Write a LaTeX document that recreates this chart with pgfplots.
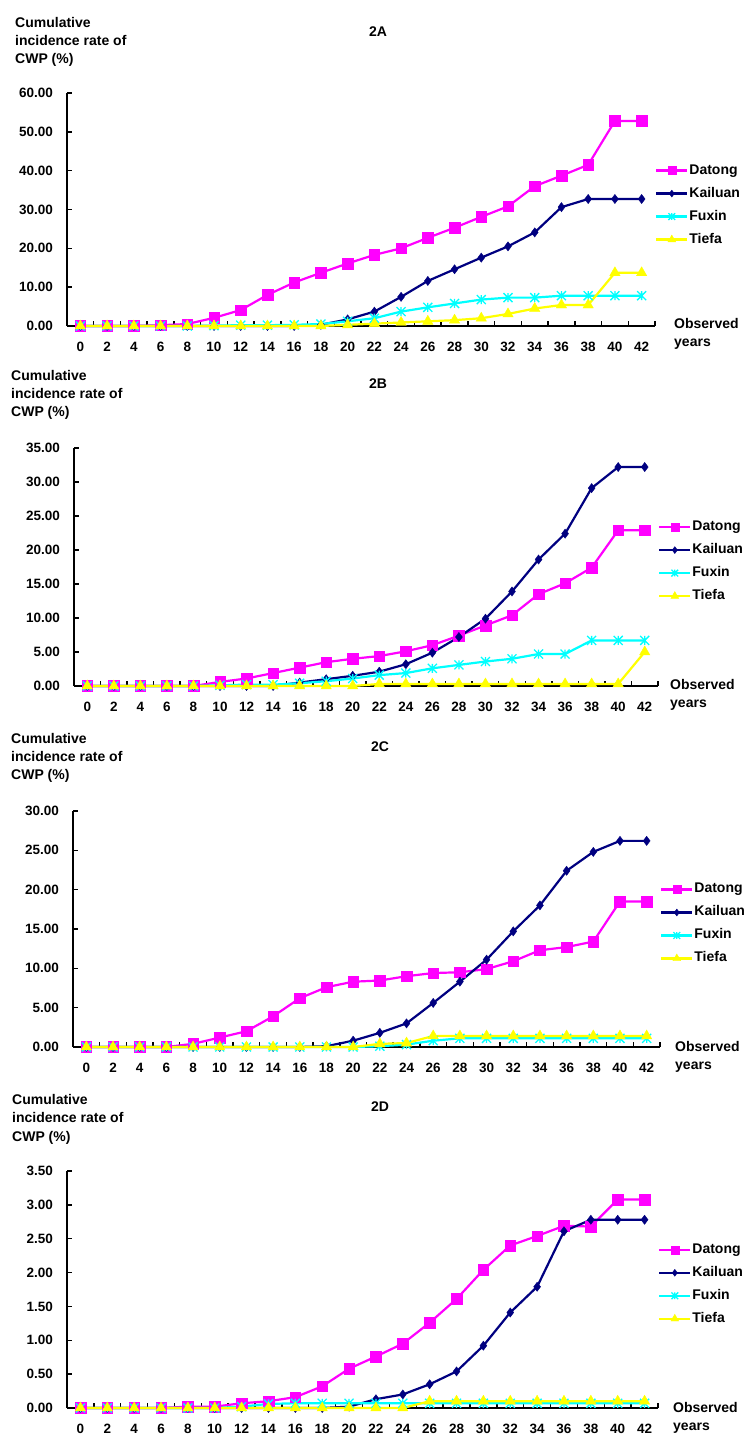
\documentclass[border=0pt]{standalone}
\usepackage{pgfplots}
\pgfplotsset{compat=1.18}
\usepackage{pgfplotstable}
\usepackage{fontspec}
\setmainfont{Liberation Sans}
\newcommand\ff{\fontsize{14}{16}\selectfont\bfseries}
\newcommand\tf{\fontsize{13.5}{15}\selectfont\bfseries}

\definecolor{cDat}{HTML}{FF00FF}
\definecolor{cKai}{HTML}{000080}
\definecolor{cFux}{HTML}{00FFFF}
\definecolor{cTie}{HTML}{FFFF00}

\pgfdeclareplotmark{xstar}{%
  \pgfpathmoveto{\pgfqpoint{-\pgfplotmarksize}{-\pgfplotmarksize}}%
  \pgfpathlineto{\pgfqpoint{\pgfplotmarksize}{\pgfplotmarksize}}%
  \pgfpathmoveto{\pgfqpoint{-\pgfplotmarksize}{\pgfplotmarksize}}%
  \pgfpathlineto{\pgfqpoint{\pgfplotmarksize}{-\pgfplotmarksize}}%
  \pgfpathmoveto{\pgfqpoint{0pt}{-\pgfplotmarksize}}%
  \pgfpathlineto{\pgfqpoint{0pt}{\pgfplotmarksize}}%
  \pgfusepathqstroke}

\pgfplotstableread{
x D K F T
0 0 0 0 0
2 0 0 0 0
4 0 0 0 0
6 0.2 0 0 0
8 0.5 0 0 0
10 2.1 0 0.1 0
12 4.1 0 0.2 0
14 8.0 0 0.2 0
16 11.2 0 0.3 0
18 13.7 0.3 0.5 0
20 16.1 1.7 1.2 0.3
22 18.3 3.7 2.0 0.6
24 20.0 7.5 3.7 0.9
26 22.7 11.6 4.8 1.2
28 25.3 14.6 5.8 1.5
30 28.1 17.6 6.8 2.0
32 30.8 20.5 7.3 3.1
34 36.0 24.1 7.3 4.5
36 38.7 30.6 7.8 5.4
38 41.5 32.7 7.8 5.4
40 52.8 32.7 7.8 13.7
42 52.8 32.7 7.8 13.7
}\tabA

\pgfplotstableread{
x D K F T
0 0 0 0 0
2 0 0 0 0
4 0 0 0 0
6 0 0 0 0
8 0 0 0 0
10 0.6 0 0.1 0
12 1.1 0 0.2 0
14 1.9 0 0.2 0
16 2.7 0.5 0.4 0
18 3.5 1.0 0.7 0
20 4.0 1.5 1.1 0
22 4.4 2.1 1.6 0.3
24 5.1 3.2 1.9 0.3
26 6.0 4.9 2.6 0.3
28 7.4 7.2 3.1 0.3
30 8.9 9.9 3.6 0.3
32 10.4 13.9 4.0 0.3
34 13.5 18.6 4.7 0.3
36 15.1 22.4 4.7 0.3
38 17.4 29.1 6.7 0.3
40 22.9 32.2 6.7 0.3
42 22.9 32.2 6.7 5.0
}\tabB

\pgfplotstableread{
x D K F T
0 0 0 0 0
2 0 0 0 0
4 0 0 0 0
6 0 0 0 0
8 0.4 0 0 0
10 1.2 0 0 0
12 2.0 0 0 0
14 3.9 0 0 0
16 6.2 0 0 0
18 7.6 0.1 0 0
20 8.3 0.8 0 0
22 8.45 1.8 0.1 0.4
24 9.0 3.0 0.3 0.5
26 9.4 5.6 0.8 1.4
28 9.5 8.3 1.1 1.4
30 9.9 11.1 1.1 1.4
32 10.9 14.7 1.1 1.4
34 12.3 18.0 1.1 1.4
36 12.7 22.4 1.1 1.4
38 13.4 24.8 1.1 1.4
40 18.5 26.2 1.1 1.4
42 18.5 26.2 1.1 1.4
}\tabC

\pgfplotstableread{
x D K F T
0 0 0 0 0
2 0 0 0 0
4 0 0 0 0
6 0 0 0 0
8 0.02 0 0 0
10 0.02 0 0 0
12 0.07 0 0.02 0
14 0.10 0 0.06 0
16 0.16 0 0.07 0
18 0.32 0 0.07 0
20 0.58 0.02 0.07 0
22 0.76 0.13 0.07 0
24 0.95 0.20 0.07 0
26 1.26 0.35 0.07 0.10
28 1.61 0.54 0.07 0.10
30 2.04 0.92 0.07 0.10
32 2.40 1.41 0.07 0.10
34 2.54 1.79 0.07 0.10
36 2.69 2.61 0.07 0.10
38 2.68 2.78 0.07 0.10
40 3.08 2.78 0.07 0.10
42 3.08 2.78 0.07 0.10
}\tabD

\pgfplotsset{
  cwp/.style={
    scale only axis, anchor=south west, clip=false,
    xmin=-1, xmax=43, ymin=0,
    axis x line=bottom, axis y line=left,
    axis line style={line width=1.6pt, -},
    tick align=inside,
    major tick length=5pt, minor tick length=5pt,
    every tick/.style={black, line width=1.4pt},
    xtick={0,2,...,42},
    minor xtick={-1,1,...,43},
    major x tick style={draw=none},
    /pgf/number format/assume math mode=true,
    xticklabel style={font=\tf, inner sep=0pt, anchor=north, yshift=-16pt},
    yticklabel style={font=\tf, inner sep=0pt, anchor=east, xshift=-14pt,
      /pgf/number format/.cd, fixed, fixed zerofill, precision=2},
    legend style={at={(1.0,0.70)}, anchor=north west, draw=none, fill=none,
      font=\ff, row sep=8pt, inner sep=0pt,
      nodes={inner sep=1pt, text height=10pt, text depth=3pt}},
    legend cell align=left,
    legend image code/.code={%
      \draw[##1, line width=2.2pt] (0pt,0pt) -- (31pt,0pt);
      \draw[##1, every mark/.append style={scale=0.75}] plot[only marks] coordinates {(15.5pt,0pt)};},
    legend entries={Datong,Kailuan,Fuxin,Tiefa},
  },
  sD/.style={color=cDat, line width=2.2pt, mark=square*, mark size=5.3pt, mark options={line width=0.4pt, fill=cDat}},
  sK/.style={color=cKai, line width=2.2pt, mark=diamond*, mark size=4.6pt, mark options={line width=0.4pt, fill=cKai}},
  sF/.style={color=cFux, line width=2.2pt, mark=xstar, mark size=4.5pt, mark options={line width=1.3pt}},
  sT/.style={color=cTie, line width=2.2pt, mark=triangle*, mark size=6pt, mark options={line width=0.4pt, fill=cTie}},
}

\begin{document}
\begin{tikzpicture}[x=1pt,y=1pt]
\useasboundingbox (0,0) rectangle (755,1450);

% ---------- 2A ----------
\begin{axis}[cwp, at={(67pt,1124pt)}, width=588pt, height=233pt,
  ymax=60, ytick={0,10,...,60}]
\addplot[sD] table[x=x,y=D]{\tabA};
\addplot[sK] table[x=x,y=K]{\tabA};
\addplot[sF] table[x=x,y=F]{\tabA};
\addplot[sT] table[x=x,y=T]{\tabA};
\end{axis}
\node[font=\ff] at (378,1418) {2A};
\node[font=\ff, anchor=base west, inner sep=0pt] at (15,1422) {Cumulative};
\node[font=\ff, anchor=base west, inner sep=0pt] at (15,1404) {incidence rate of};
\node[font=\ff, anchor=base west, inner sep=0pt] at (15,1386) {CWP (\%)};
\node[font=\ff, anchor=base west, inner sep=0pt] at (674,1121) {Observed};
\node[font=\ff, anchor=base west, inner sep=0pt] at (674,1103) {years};

% ---------- 2B ----------
\begin{axis}[cwp, at={(74pt,764pt)}, width=584pt, height=238pt,
  ymax=35, ytick={0,5,...,35}]
\addplot[sD] table[x=x,y=D]{\tabB};
\addplot[sK] table[x=x,y=K]{\tabB};
\addplot[sF] table[x=x,y=F]{\tabB};
\addplot[sT] table[x=x,y=T]{\tabB};
\end{axis}
\node[font=\ff] at (378,1066) {2B};
\node[font=\ff, anchor=base west, inner sep=0pt] at (11,1069) {Cumulative};
\node[font=\ff, anchor=base west, inner sep=0pt] at (11,1051) {incidence rate of};
\node[font=\ff, anchor=base west, inner sep=0pt] at (11,1033) {CWP (\%)};
\node[font=\ff, anchor=base west, inner sep=0pt] at (670,760) {Observed};
\node[font=\ff, anchor=base west, inner sep=0pt] at (670,742) {years};

% ---------- 2C ----------
\begin{axis}[cwp, at={(73pt,403pt)}, width=587pt, height=236pt,
  ymax=30, ytick={0,5,...,30}]
\addplot[sD] table[x=x,y=D]{\tabC};
\addplot[sK] table[x=x,y=K]{\tabC};
\addplot[sF] table[x=x,y=F]{\tabC};
\addplot[sT] table[x=x,y=T]{\tabC};
\end{axis}
\node[font=\ff] at (380,703) {2C};
\node[font=\ff, anchor=base west, inner sep=0pt] at (11,706) {Cumulative};
\node[font=\ff, anchor=base west, inner sep=0pt] at (11,688) {incidence rate of};
\node[font=\ff, anchor=base west, inner sep=0pt] at (11,670) {CWP (\%)};
\node[font=\ff, anchor=base west, inner sep=0pt] at (675,398) {Observed};
\node[font=\ff, anchor=base west, inner sep=0pt] at (675,380) {years};

% ---------- 2D ----------
\begin{axis}[cwp, at={(67pt,42pt)}, width=591pt, height=237pt,
  ymax=3.5, ytick={0,0.5,...,3.5}]
\addplot[sD] table[x=x,y=D]{\tabD};
\addplot[sK] table[x=x,y=K]{\tabD};
\addplot[sF] table[x=x,y=F]{\tabD};
\addplot[sT] table[x=x,y=T]{\tabD};
\end{axis}
\node[font=\ff] at (380,343) {2D};
\node[font=\ff, anchor=base west, inner sep=0pt] at (12,345) {Cumulative};
\node[font=\ff, anchor=base west, inner sep=0pt] at (12,327) {incidence rate of};
\node[font=\ff, anchor=base west, inner sep=0pt] at (12,308) {CWP (\%)};
\node[font=\ff, anchor=base west, inner sep=0pt] at (673,37) {Observed};
\node[font=\ff, anchor=base west, inner sep=0pt] at (673,19) {years};
\end{tikzpicture}
\end{document}
